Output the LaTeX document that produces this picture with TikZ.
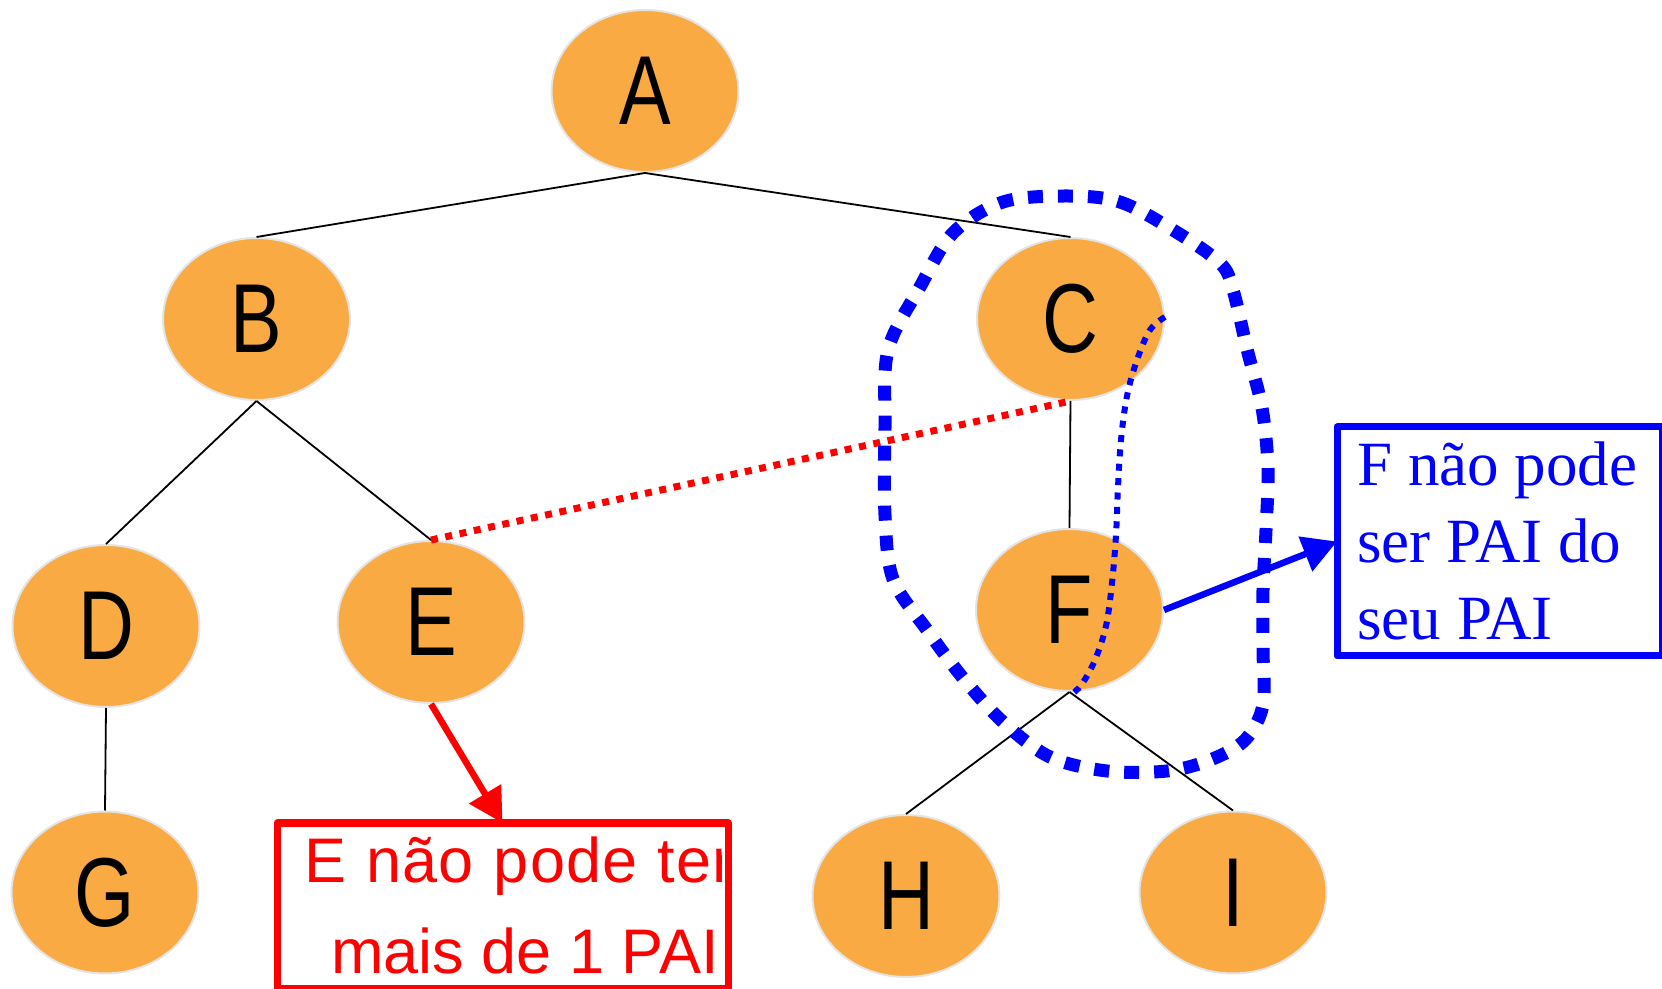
\documentclass[tikz,border=0pt]{standalone}
\usepackage{fontspec}
\setmainfont{Liberation Sans}
\newfontfamily\lettersans[FakeStretch=0.79]{Liberation Sans}
\newfontfamily\notesans{Liberation Sans}
\newfontfamily\notesanswide[LetterSpace=2]{Liberation Sans}
\newfontfamily\noteserif{Liberation Serif}
\usetikzlibrary{shapes.geometric,arrows.meta}
\definecolor{nodefill}{RGB}{250,170,66}
\definecolor{nodeline}{RGB}{228,228,228}
\definecolor{alertred}{RGB}{255,0,0}
\definecolor{noteblue}{RGB}{0,0,255}

\begin{document}
\begin{tikzpicture}[x=0.5pt,y=-0.5pt,
  treenode/.style={ellipse, fill=nodefill, draw=nodeline, line width=1pt,
    minimum width=93.5pt, minimum height=81pt, inner sep=0pt,
    font=\lettersans\fontsize{49pt}{49pt}\selectfont},
  branch/.style={draw=black, line width=0.9pt},
  redtext/.style={anchor=base west, inner sep=0pt, text=alertred,
    font=\notesans\fontsize{31.5pt}{31.5pt}\selectfont},
  bluetext/.style={anchor=base west, inner sep=0pt, text=noteblue,
    font=\noteserif\fontsize{31.5pt}{31.5pt}\selectfont},
  notebox/.style={rectangle, inner sep=0pt, line width=3.5pt, line join=round},
  pointer/.style={line width=3.25pt, -{Triangle[length=17pt,width=18pt]}},
  redchain/.style={draw=alertred, line width=3.5pt, dash pattern=on 3.5pt off 3.8pt},
  bluering/.style={draw=noteblue, line width=6.5pt, dash pattern=on 7.5pt off 7.5pt},
  bluethread/.style={draw=noteblue, line width=3pt, dash pattern=on 3.5pt off 3.7pt}
]
\useasboundingbox (0,0) rectangle (1662,989);

% tree nodes
\node[treenode] (A) at (645,91) {A};
\node[treenode] (B) at (256.5,319) {B};
\node[treenode] (C) at (1070.5,319) {C};
\node[treenode] (D) at (106,626) {D};
\node[treenode] (E) at (431,622) {E};
\node[treenode] (F) at (1069.5,610) {F};
\node[treenode] (G) at (105,892.5) {G};
\node[treenode] (H) at (906,896) {H};
\node[treenode] (I) at (1233,892.5) {I};

% tree edges
\draw[branch] (A.south) -- (B.north);
\draw[branch] (A.south) -- (C.north);
\draw[branch] (B.south) -- (D.north);
\draw[branch] (B.south) -- (E.north);
\draw[branch] (C.south) -- (F.north);
\draw[branch] (D.south) -- (G.north);
\draw[branch] (F.south) -- (H.north);
\draw[branch] (F.south) -- (I.north);

% note boxes
\node[notebox, minimum width=222pt, minimum height=79.25pt] (ebox) at (502.5,905.75) {};
\node[notebox, minimum width=159pt, minimum height=111pt] (fbox) at (1499.5,541.5) {};

% red note, cut off by its frame
\begin{scope}
  \clip (284,830) rectangle (721,982);
  \node[redtext, font=\notesanswide\fontsize{31.5pt}{31.5pt}\selectfont]
    (etext1) at (304,882) {\spaceskip=10pt E não pode ter};
  \node[redtext] (etext2) at (331,973) {mais de 1 PAI};
\end{scope}
\draw[alertred, line width=3.5pt, line join=round]
  (ebox.north west) rectangle (ebox.south east);

% blue note
\node[bluetext] (ftext1) at (1357,486) {F não pode};
\node[bluetext] (ftext2) at (1357,563) {ser PAI do};
\node[bluetext] (ftext3) at (1357,640) {seu PAI};
\draw[noteblue, line width=3.5pt, line join=round]
  (fbox.north west) rectangle (fbox.south east);

% second parent of E
\draw[redchain] (E.north) -- (C.south);

% pointers to the notes
\draw[pointer, alertred] (E.south) -- (ebox.north);
\draw[pointer, noteblue] (F.east) -- (fbox.west);

% cycle between C and F
\draw[bluering] plot[smooth cycle, tension=0.55] coordinates {
  (1067,196) (1120,202) (1173,230) (1220,263) (1233,290) (1247,349)
  (1262,408) (1268,468) (1266,530) (1263,590) (1263,650) (1263,705)
  (1245,740) (1210,760) (1167,771) (1107,771) (1050,757) (1003,722)
  (963,678) (927,630) (893,579) (885,515) (885,428) (888,350)
  (920,287) (953,233) (1003,202)};
\draw[bluethread] plot[smooth, tension=0.6] coordinates {
  (1165,317) (1150,330) (1137,360) (1127,396) (1121,440) (1118,487)
  (1116,535) (1112,583) (1106,626) (1095,660) (1082,684) (1072,694)};
\end{tikzpicture}
\end{document}
